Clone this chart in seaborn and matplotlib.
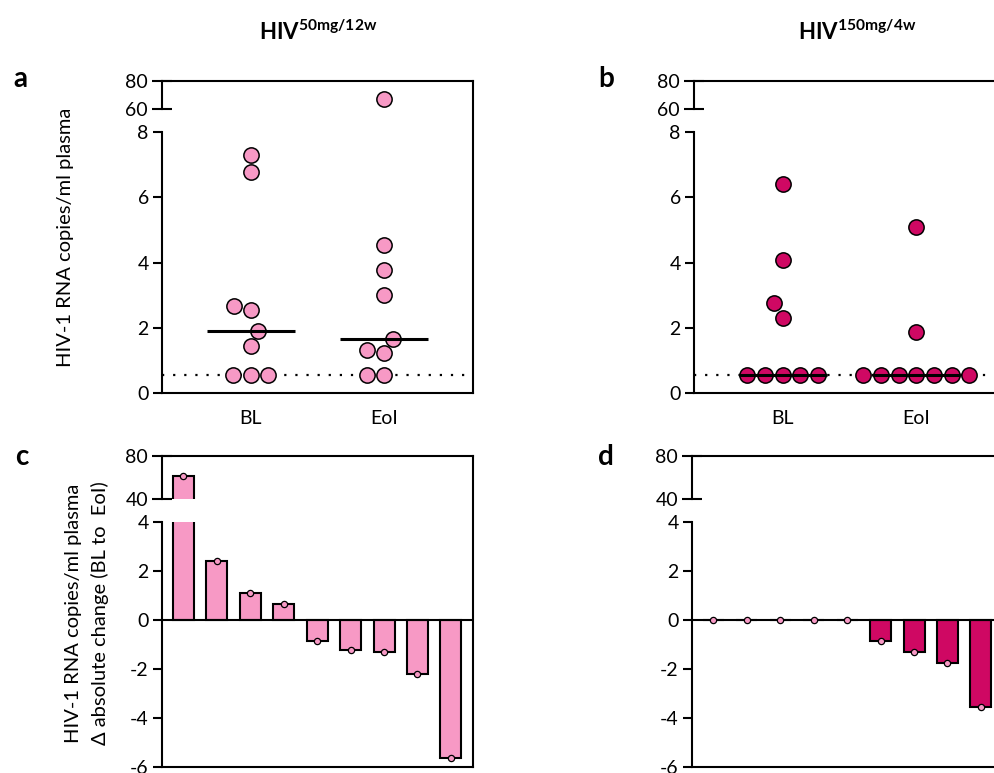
import warnings
warnings.filterwarnings('ignore')
import numpy as np
import pandas as pd
import matplotlib
matplotlib.use('Agg')
import matplotlib.pyplot as plt
import seaborn as sns

sns.set_theme(style='white')
plt.rcParams['font.family'] = ['Lato', 'DejaVu Sans']
plt.rcParams['mathtext.fontset'] = 'custom'
plt.rcParams['mathtext.rm'] = 'Lato'
plt.rcParams['mathtext.bf'] = 'Lato:bold'
plt.rcParams['axes.unicode_minus'] = False

# ---------------- data ----------------
timepoints = ['BL', 'EoI']
a_BL = [7.30, 6.76, 2.66, 2.55, 1.90, 1.43, 0.55, 0.55, 0.55]
a_EoI = [67.0, 4.54, 3.77, 2.99, 1.67, 1.32, 1.22, 0.55, 0.55]
b_BL = [6.41, 4.08, 2.76, 2.31, 0.55, 0.55, 0.55, 0.55, 0.55]
b_EoI = [5.09, 1.87, 0.55, 0.55, 0.55, 0.55, 0.55, 0.55, 0.55]
participants = ['P1', 'P2', 'P3', 'P4', 'P5', 'P6', 'P7', 'P8', 'P9']
c_delta = [61.5, 2.43, 1.10, 0.65, -0.87, -1.21, -1.32, -2.20, -5.63]
d_delta = [0.0, 0.0, 0.0, 0.0, 0.0, -0.87, -1.31, -1.76, -3.54]
detection_limit = 0.55
titles = [r'$\mathbf{HIV}^{\mathbf{50mg/12w}}$', r'$\mathbf{HIV}^{\mathbf{150mg/4w}}$']
ylabel_top = 'HIV-1 RNA copies/ml plasma'
ylabel_bottom = 'HIV-1 RNA copies/ml plasma\n\u0394 absolute change (BL to  EoI)'

PINK = '#F799C5'
MAGENTA = '#CF0863'
TICK_FS = 14

W, H = 994, 773
fig = plt.figure(figsize=(W / 100, H / 100), dpi=100)


def rect(l, t, r, b):
    return [l / W, 1 - b / H, (r - l) / W, (b - t) / H]


def style_spines(ax, visible):
    for side in ['left', 'right', 'top', 'bottom']:
        ax.spines[side].set_visible(side in visible)
        ax.spines[side].set_color('black')
        ax.spines[side].set_linewidth(1.5)


def frame_axes(l, t, r, b):
    fr = fig.add_axes(rect(l, t, r, b), zorder=0)
    fr.patch.set_visible(False)
    style_spines(fr, ['right'])
    fr.set_xticks([])
    fr.set_yticks([])
    return fr


def break_ticks(up, lo, up_ticks, lo_ticks):
    up.set_yticks(up_ticks)
    up.tick_params(axis='y', direction='inout', length=14, width=1.5,
                   pad=3, labelsize=TICK_FS, colors='black', left=True)
    lo.set_yticks(lo_ticks)
    lo.set_yticks([lo_ticks[-1]], minor=True)
    lo.tick_params(axis='y', which='major', direction='out', length=6.5,
                   width=1.5, pad=3, labelsize=TICK_FS, colors='black',
                   left=True)
    lo.tick_params(axis='y', which='minor', direction='inout', length=9.5,
                   width=1.5, left=True)


def swarm_panel(left, right, bl, eoi, color):
    frame_axes(left, 81, right, 393)
    up = fig.add_axes(rect(left, 81, right, 109), zorder=1)
    lo = fig.add_axes(rect(left, 132, right, 393), zorder=1)
    df = pd.DataFrame({'time': ['BL'] * len(bl) + ['EoI'] * len(eoi),
                       'copies': bl + eoi})
    medians = df.groupby('time')['copies'].median()
    for ax in (up, lo):
        ax.patch.set_visible(False)
        sns.swarmplot(data=df, x='time', y='copies', order=timepoints, ax=ax,
                      color=color, size=11, edgecolor='black', linewidth=1.1,
                      zorder=3)
        ax.axhline(detection_limit, color='black', ls=(0, (1, 4)), lw=1.6,
                   zorder=2)
        for i, t in enumerate(timepoints):
            ax.hlines(medians[t], i - 0.33, i + 0.33, color='black', lw=2.2,
                      zorder=4)
        ax.set_xlim(-0.665, 1.665)
        ax.set_xlabel('')
        ax.set_ylabel('')
    up.set_ylim(60, 80)
    up.set_xticks([])
    style_spines(up, ['left', 'top'])

    lo.set_ylim(0, 8)
    break_ticks(up, lo, [60, 80], [0, 2, 4, 6, 8])
    lo.set_xticks([0, 1])
    lo.set_xticklabels(timepoints)
    lo.tick_params(axis='x', length=0, labelsize=TICK_FS, pad=12,
                   colors='black')
    style_spines(lo, ['left', 'bottom'])


def bar_panel(left, right, vals, color):
    frame_axes(left, 455.7, right, 767)
    up = fig.add_axes(rect(left, 455.7, right, 499), zorder=1)
    lo = fig.add_axes(rect(left, 522.3, right, 767), zorder=1)
    for ax in (up, lo):
        ax.patch.set_visible(False)
        sns.barplot(x=participants, y=vals, ax=ax, color=color,
                    saturation=1, edgecolor='black', linewidth=1.5,
                    width=0.63, errorbar=None, zorder=2)
        sns.stripplot(x=participants, y=vals, ax=ax, jitter=False,
                      color=PINK, size=4.5, edgecolor='black',
                      linewidth=0.9, zorder=5)
        ax.set_xlim(-0.64, 8.66)
        ax.set_xlabel('')
        ax.set_ylabel('')
        ax.set_xticks([])
    lo.axhline(0, color='black', lw=1.5, zorder=3)
    up.set_ylim(40, 80)
    style_spines(up, ['left', 'top'])
    lo.set_ylim(-6, 4)
    break_ticks(up, lo, [40, 80], [-6, -4, -2, 0, 2, 4])
    style_spines(lo, ['left', 'bottom'])


swarm_panel(162, 473, a_BL, a_EoI, PINK)
swarm_panel(694, 1005, b_BL, b_EoI, MAGENTA)
bar_panel(162, 473, c_delta, PINK)
bar_panel(692, 1003, d_delta, MAGENTA)

fig.text(318 / W, 1 - 40 / H, titles[0], ha='center', va='baseline',
         fontsize=16, color='black')
fig.text(857 / W, 1 - 40 / H, titles[1], ha='center', va='baseline',
         fontsize=16, color='black')

for letter, x, y in [('a', 13, 87), ('b', 598, 87), ('c', 15, 465),
                     ('d', 598, 465)]:
    fig.text(x / W, 1 - y / H, letter, fontsize=20, fontweight='bold',
             va='baseline', ha='left', color='black')

fig.text(66 / W, 1 - 237 / H, ylabel_top, rotation=90, ha='center',
         va='center', fontsize=14.5, color='black')
fig.text(87 / W, 1 - 613 / H, ylabel_bottom, rotation=90, ha='center',
         va='center', fontsize=14.5, color='black', linespacing=1.65,
         multialignment='center')

fig.savefig('out.png', dpi=100)
